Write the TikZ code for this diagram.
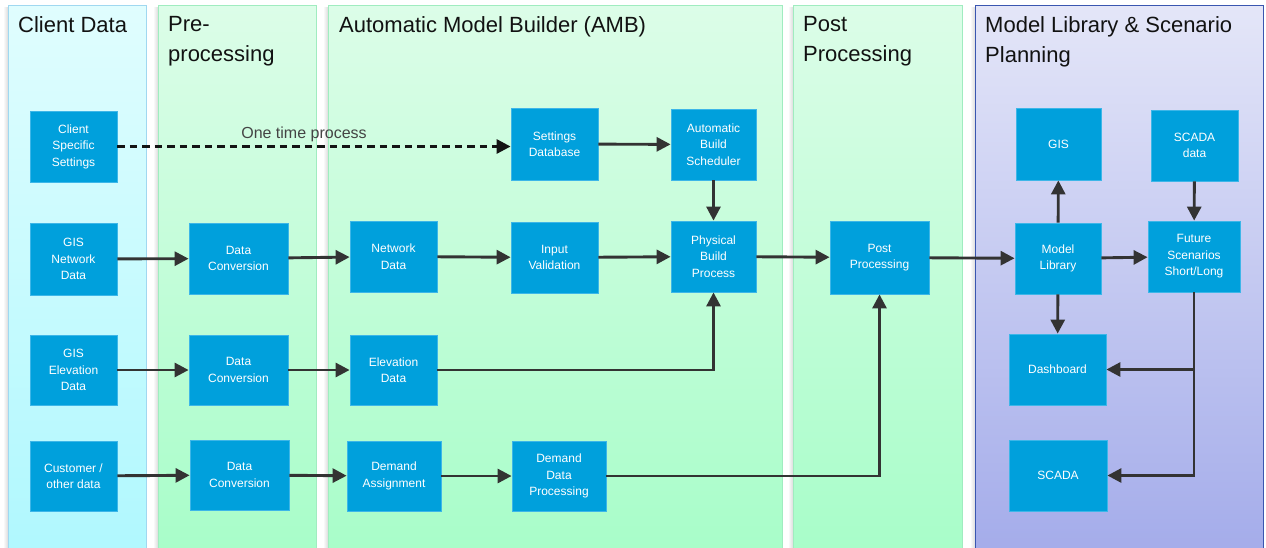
\documentclass[tikz,border=0pt]{standalone}
\usepackage{fontspec}
\setmainfont{Liberation Sans}
\usetikzlibrary{arrows.meta}

\definecolor{boxblue}{HTML}{00A0DC}
\definecolor{boxedge}{HTML}{3DB6E8}
\definecolor{arrowgray}{HTML}{333333}
\definecolor{labelgray}{HTML}{444444}
\definecolor{cyantop}{HTML}{E0FDFE}
\definecolor{cyanbot}{HTML}{B0F8FE}
\definecolor{cyanedge}{HTML}{A0D8F0}
\definecolor{greentop}{HTML}{DCFDE8}
\definecolor{greenbot}{HTML}{A8FDC9}
\definecolor{greenedge}{HTML}{A0ECC0}
\definecolor{violettop}{HTML}{E4E6F8}
\definecolor{violetbot}{HTML}{A4ACEA}
\definecolor{violetedge}{HTML}{3A56B0}

\tikzset{
  lanecyan/.style={top color=cyantop, bottom color=cyanbot, draw=cyanedge, line width=1pt},
  lanegreen/.style={top color=greentop, bottom color=greenbot, draw=greenedge, line width=1pt},
  laneviolet/.style={top color=violettop, bottom color=violetbot, draw=violetedge, line width=1pt},
  laneshadow/.style={left color=white, right color=black!14},
  lanetitle/.style={anchor=north west, inner sep=0pt, align=left, text=black!93,
    font=\fontsize{22}{30}\selectfont},
  box/.style={fill=boxblue, draw=boxedge, line width=0.8pt, text=white, align=center,
    inner sep=0pt, font=\fontsize{12}{16.5}\selectfont},
  arr/.style={draw=arrowgray, line width=2.9pt,
    -{Triangle[length=14pt,width=14pt]}},
  dasharr/.style={draw=black!92, line width=2.9pt, dash pattern=on 7.5pt off 5pt,
    -{Triangle[length=14pt,width=14pt]}},
}

\begin{document}
\begin{tikzpicture}[x=1pt, y=-1pt]
  \useasboundingbox (0,0) rectangle (1266,547);
  \fill[white] (0,0) rectangle (1266,547);

  % soft shadows on the left of each lane
  \foreach \lx in {8,158,328,793,975}
    \shade[laneshadow] (\lx-5,7) rectangle (\lx,552);

  % swim lanes
  \path[lanecyan]   (8,5)   rectangle (146,552);
  \path[lanegreen]  (158,5) rectangle (316,552);
  \path[lanegreen]  (328,5) rectangle (782,552);
  \path[lanegreen]  (793,5) rectangle (962,552);
  \path[laneviolet] (975,5) rectangle (1263,552);

  % lane titles
  \node[lanetitle] (t1) at (18,16)  {Client Data};
  \node[lanetitle] (t2) at (168,16) {Pre-\\processing};
  \node[lanetitle] (t3) at (339,16) {Automatic Model Builder (AMB)};
  \node[lanetitle] (t4) at (803,16) {Post\\Processing};
  \node[lanetitle] (t5) at (985,16) {Model Library \& Scenario\\Planning};

  % client data
  \node[box, minimum width=87pt, minimum height=71pt] (css)  at (73.5,146.5) {Client\\Specific\\Settings};
  \node[box, minimum width=87pt, minimum height=72pt] (gisn) at (73.5,259)   {GIS\\Network\\Data};
  \node[box, minimum width=87pt, minimum height=70pt] (gise) at (73.5,370)   {GIS\\Elevation\\Data};
  \node[box, minimum width=87pt, minimum height=70pt] (cust) at (73.5,476)   {Customer /\\other data};

  % pre-processing
  \node[box, minimum width=99pt, minimum height=71pt] (dc1) at (238.5,258.5) {Data\\Conversion};
  \node[box, minimum width=99pt, minimum height=70pt] (dc2) at (238.5,370)   {Data\\Conversion};
  \node[box, minimum width=99pt, minimum height=70pt] (dc3) at (239.5,475)   {Data\\Conversion};

  % automatic model builder
  \node[box, minimum width=87pt, minimum height=71pt] (nd)  at (393.5,256.5) {Network\\Data};
  \node[box, minimum width=87pt, minimum height=70pt] (ed)  at (393.5,370)   {Elevation\\Data};
  \node[box, minimum width=94pt, minimum height=70pt] (da)  at (394,476)     {Demand\\Assignment};
  \node[box, minimum width=87pt, minimum height=72pt] (sdb) at (554.5,144)   {Settings\\Database};
  \node[box, minimum width=87pt, minimum height=71pt] (iv)  at (554.5,257.5) {Input\\Validation};
  \node[box, minimum width=94pt, minimum height=70pt] (ddp) at (559,476)     {Demand\\Data\\Processing};
  \node[box, minimum width=85pt, minimum height=71pt] (abs) at (713.5,144.5) {Automatic\\Build\\Scheduler};
  \node[box, minimum width=85pt, minimum height=71pt] (pbp) at (713.5,256.5) {Physical\\Build\\Process};

  % post processing
  \node[box, minimum width=99pt, minimum height=73pt] (pp) at (879.5,257.5) {Post\\Processing};

  % model library & scenario planning
  \node[box, minimum width=85pt, minimum height=72pt] (gis)   at (1058.5,144)   {GIS};
  \node[box, minimum width=87pt, minimum height=71pt] (scd)   at (1194.5,145.5) {SCADA\\data};
  \node[box, minimum width=86pt, minimum height=71pt] (ml)    at (1058,258.5)   {Model\\Library};
  \node[box, minimum width=92pt, minimum height=71pt] (fs)    at (1194,256.5)   {Future\\Scenarios\\Short/Long};
  \node[box, minimum width=97pt, minimum height=71pt] (dash)  at (1057.5,369.5) {Dashboard};
  \node[box, minimum width=98pt, minimum height=71pt] (scada) at (1058,475.5)   {SCADA};

  % one-time configuration path
  \draw[dasharr] (css.east) -- (css.east -| sdb.west);
  \node[font=\fontsize{16}{18}\selectfont, text=labelgray, inner sep=0pt] (otp) at (304,134) {One time process};
  \draw[arr] (sdb) -- (abs);
  \draw[arr] (abs) -- (pbp);

  % network row
  \draw[arr] (gisn) -- (dc1);
  \draw[arr] (dc1) -- (nd);
  \draw[arr] (nd) -- (iv);
  \draw[arr] (iv) -- (pbp);
  \draw[arr] (pbp) -- (pp);
  \draw[arr] (pp) -- (ml);
  \draw[arr] (ml) -- (fs);

  % elevation row
  \draw[arr] (gise) -- (dc2);
  \draw[arr] (dc2) -- (ed);
  \draw[arr] (ed.east) -| (pbp.south);

  % demand row
  \draw[arr] (cust) -- (dc3);
  \draw[arr] (dc3) -- (da);
  \draw[arr] (da) -- (ddp);
  \draw[arr] (ddp.east) -| (pp.south);

  % model library outputs
  \draw[arr] (ml) -- (gis);
  \draw[arr] (ml) -- (dash);
  \draw[arr] (scd) -- (fs);
  \draw[arr] (fs.south) |- (dash.east);
  \draw[arr] (fs.south) |- (scada.east);
\end{tikzpicture}
\end{document}
